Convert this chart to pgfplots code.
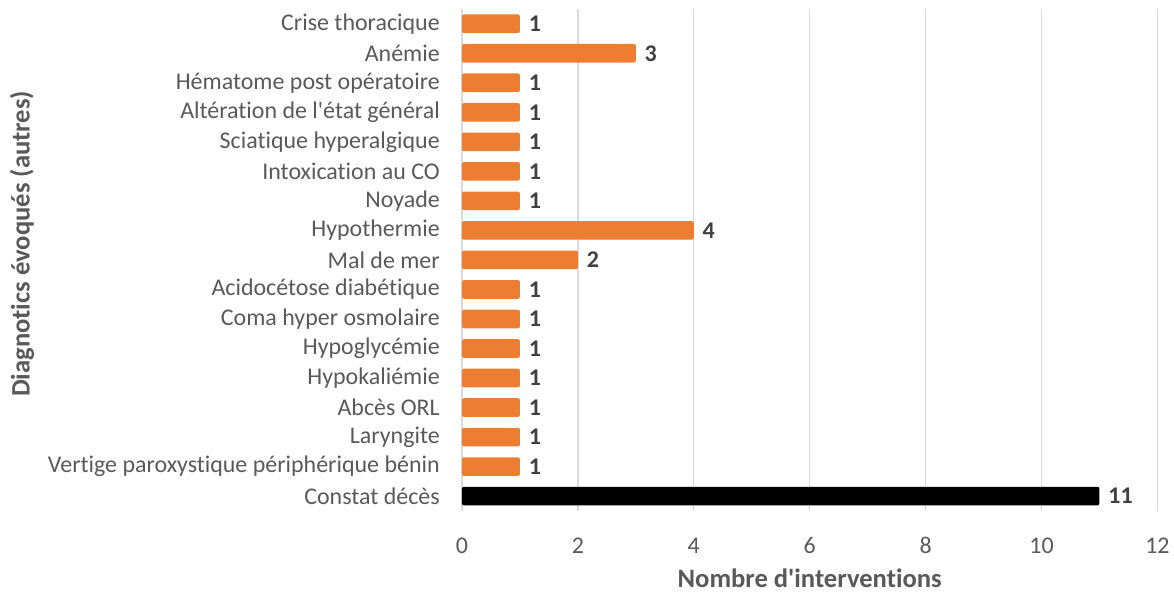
\documentclass[border=0pt]{standalone}
\usepackage{pgfplots}
\pgfplotsset{compat=1.18}
\usepackage{fontspec}
\setmainfont{Carlito}[Ligatures={NoCommon}]
\definecolor{barorange}{HTML}{ED7D31}
\definecolor{txtgray}{HTML}{595959}
\definecolor{lblgray}{HTML}{404040}
\definecolor{gridgray}{HTML}{D9D9D9}
\begin{document}
\begin{tikzpicture}
\begin{axis}[
  xbar, bar shift=0pt,
  bar width=14pt,
  width=522.75pt, height=377.25pt,
  scale only axis,
  xmin=0, xmax=12,
  ymin=-0.5, ymax=16.5,
  xtick={0,2,...,12},
  ytick={0,1,...,16},
  yticklabels={Constat décès,Vertige paroxystique périphérique bénin,Laryngite,Abcès ORL,Hypokaliémie,Hypoglycémie,Coma hyper osmolaire,Acidocétose diabétique,Mal de mer,Hypothermie,Noyade,Intoxication au CO,Sciatique hyperalgique,Altération de l\textquotesingle état général,Hématome post opératoire,Anémie,Crise thoracique},
  axis line style={draw=none},
  major tick length=0pt,
  xmajorgrids, grid style={gridgray, line width=1pt},
  tick label style={font=\fontsize{18}{21}\selectfont, text=txtgray},
  /pgf/number format/assume math mode=true,
  xticklabel style={anchor=center, yshift=-26.25pt},
  yticklabel style={anchor=east, inner sep=0pt, xshift=-16.5pt},
  xlabel={Nombre d\textquotesingle interventions},
  ylabel={Diagnotics évoqués (autres)},
  label style={font=\bfseries\fontsize{20}{23}\selectfont, text=txtgray},
  xlabel style={at={([yshift=-51pt]rel axis cs:0.5,0)}, anchor=center},
  ylabel style={at={([xshift=-330.75pt,yshift=12pt]rel axis cs:0,0.5)}, anchor=center},
  nodes near coords,
  every node near coord/.append style={font=\bfseries\fontsize{18}{21}\selectfont, text=lblgray, anchor=west, inner sep=0pt, xshift=6.5pt},
  clip=false,
]
\addplot[fill=barorange, draw=none, rounded corners=1.5pt] coordinates {
  (1,1) (1,2) (1,3) (1,4) (1,5) (1,6) (1,7) (2,8) (4,9) (1,10) (1,11) (1,12) (1,13) (1,14) (3,15) (1,16)
};
\addplot[fill=black, draw=none, rounded corners=1.5pt] coordinates {
  (11,0)
};
\path[use as bounding box] ([xshift=-347.25pt,yshift=-61.5pt]rel axis cs:0,0) rectangle ([xshift=10.5pt,yshift=6.75pt]rel axis cs:1,1);
\end{axis}
\end{tikzpicture}
\end{document}
